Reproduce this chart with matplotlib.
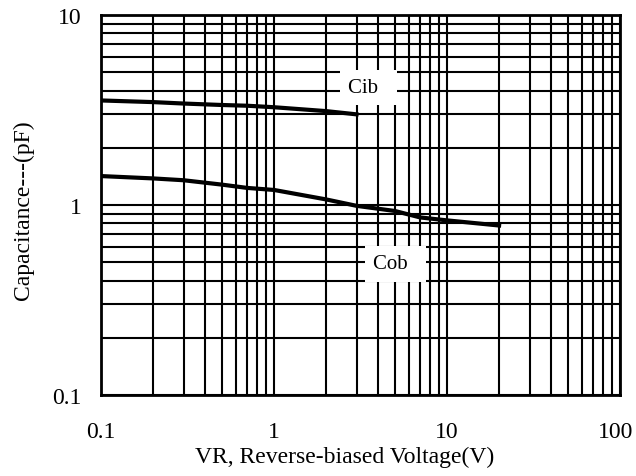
import matplotlib
matplotlib.use("Agg")
import matplotlib.pyplot as plt
import matplotlib.transforms as mtransforms
from matplotlib.ticker import FixedLocator, NullFormatter

plt.rcParams['font.family'] = ['Liberation Serif', 'DejaVu Serif']

# capacitance curves
vr_cib = [0.1, 0.2, 0.3, 0.5, 0.7, 1, 2, 3]
cib = [3.55, 3.48, 3.42, 3.36, 3.33, 3.27, 3.12, 3.0]

vr_cob = [0.1, 0.2, 0.3, 0.5, 0.7, 1, 2, 3, 5, 7, 10, 20]
cob = [1.42, 1.38, 1.35, 1.28, 1.23, 1.20, 1.07, 0.99, 0.93, 0.86, 0.83, 0.78]

x_ticks = [0.1, 1, 10, 100]
x_labels = ['0.1', '1', '10', '100']
y_ticks = [0.1, 1, 10]
y_labels = ['0.1', '1', '10']

fig = plt.figure(figsize=(6.36, 4.77), dpi=100)
ax = fig.add_axes([101/636, 1 - 396/477, 519/636, 380/477])

ax.plot(vr_cib, cib, color='black', lw=3, zorder=3)
ax.plot(vr_cob, cob, color='black', lw=3, zorder=3)

ax.set_xscale('log')
ax.set_yscale('log')
ax.set_xlim(0.1, 100)
ax.set_ylim(0.1, 10)

ax.xaxis.set_major_locator(FixedLocator(x_ticks))
ax.yaxis.set_major_locator(FixedLocator(y_ticks))
ax.set_xticklabels(x_labels)
ax.set_yticklabels(y_labels)
minor_x = [m * d for d in [0.1, 1, 10] for m in range(2, 10)]
minor_y = [m * d for d in [0.1, 1] for m in range(2, 10)]
ax.xaxis.set_minor_locator(FixedLocator(minor_x))
ax.yaxis.set_minor_locator(FixedLocator(minor_y))
ax.xaxis.set_minor_formatter(NullFormatter())
ax.yaxis.set_minor_formatter(NullFormatter())

ax.grid(True, which='both', color='black', lw=1.5, zorder=1)
ax.tick_params(which='both', length=0, labelsize=17)
ax.tick_params(axis='x', pad=19)
ax.tick_params(axis='y', pad=14)
for s in ax.spines.values():
    s.set_linewidth(2)

# last x label sits hard against the right edge, nudge it in
last = ax.get_xticklabels()[-1]
last.set_transform(last.get_transform() +
                   mtransforms.ScaledTranslation(-4/100, 0, fig.dpi_scale_trans))

# curve labels sit on white boxes that cut the grid
ax.text(2.68, 4.15, 'Cib  ', fontsize=15, ha='left', va='center', zorder=4,
        bbox=dict(facecolor='white', edgecolor='none', pad=6))
ax.text(3.73, 0.49, 'Cob  ', fontsize=15, ha='left', va='center', zorder=4,
        bbox=dict(facecolor='white', edgecolor='none', pad=6))

ax.set_xlabel('VR, Reverse-biased Voltage(V)', fontsize=17)
ax.set_ylabel('Capacitance---(pF)', fontsize=17)
ax.xaxis.set_label_coords(0.47, -0.135)
ax.yaxis.set_label_coords(-0.13, 0.49)

fig.savefig('out.png', dpi=100)
